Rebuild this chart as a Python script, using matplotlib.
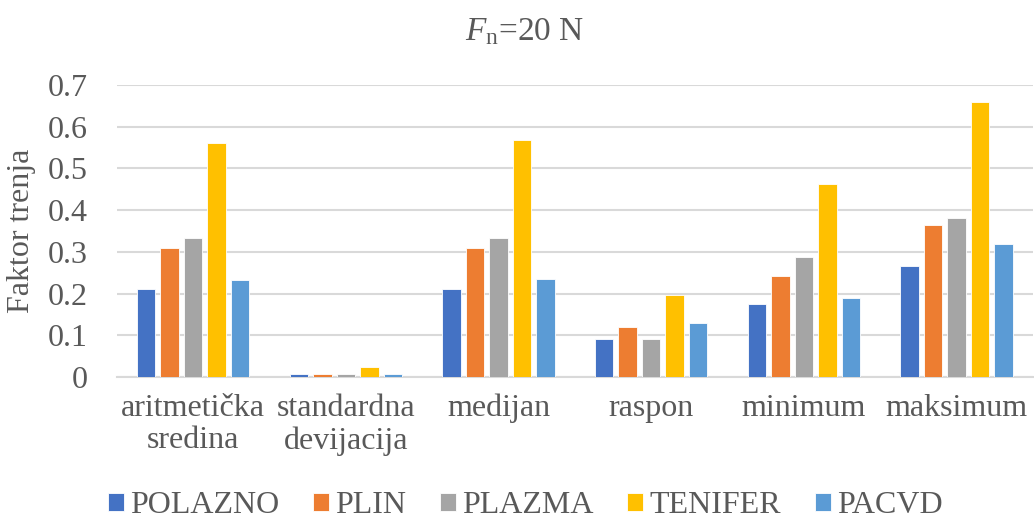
import numpy as np
import matplotlib
matplotlib.use("Agg")
import matplotlib.pyplot as plt

plt.rcParams["font.family"] = ["Liberation Serif", "DejaVu Serif"]
plt.rcParams["mathtext.fontset"] = "custom"
plt.rcParams["mathtext.rm"] = "Liberation Serif"
plt.rcParams["mathtext.it"] = "Liberation Serif:italic"

# data
categories = ["aritmetička\nsredina", "standardna\ndevijacija", "medijan",
              "raspon", "minimum", "maksimum"]
series_names = ["POLAZNO", "PLIN", "PLAZMA", "TENIFER", "PACVD"]
polazno = [0.212, 0.007, 0.212, 0.090, 0.174, 0.265]
plin = [0.309, 0.007, 0.310, 0.121, 0.242, 0.364]
plazma = [0.333, 0.008, 0.333, 0.090, 0.288, 0.380]
tenifer = [0.560, 0.025, 0.569, 0.197, 0.463, 0.660]
pacvd = [0.232, 0.007, 0.234, 0.129, 0.189, 0.318]
colors = ["#4472C4", "#ED7D31", "#A5A5A5", "#FFC000", "#5B9BD5"]

text_color = "#595959"
grid_color = "#D9D9D9"

fig = plt.figure(figsize=(10.34, 5.24), dpi=100)
ax = fig.add_axes([0.1129, 0.2805, 0.8861, 0.5573])

x = np.arange(len(categories))
pitch = 0.154
width = 0.121
all_series = [polazno, plin, plazma, tenifer, pacvd]
for i, (vals, name, c) in enumerate(zip(all_series, series_names, colors)):
    ax.bar(x + (i - 2) * pitch, vals, width, color=c, label=name,
           edgecolor="white", linewidth=0.6, zorder=3)

ax.set_xlim(-0.5, len(categories) - 0.5)
ax.set_ylim(0, 0.7)
ax.set_yticks(np.arange(0, 0.71, 0.1))
ax.set_yticklabels(["0", "0.1", "0.2", "0.3", "0.4", "0.5", "0.6", "0.7"])
ax.set_xticks(x)
ax.set_xticklabels(categories, linespacing=1.15)
ax.tick_params(axis="both", length=0, labelsize=23, colors=text_color)
ax.tick_params(axis="y", pad=21)
ax.tick_params(axis="x", pad=12)

ax.grid(axis="y", color=grid_color, linewidth=1.5, zorder=0)
for s in ["top", "right", "left"]:
    ax.spines[s].set_visible(False)
ax.spines["bottom"].set_color(grid_color)
ax.spines["bottom"].set_linewidth(1.5)

ax.set_ylabel("Faktor trenja", fontsize=23, color=text_color, labelpad=8)
fig.text(0.507, 0.94, r"$F$$_\mathrm{n}$=20 N", fontsize=24, color=text_color,
         ha="center", va="center")

handles, labels = ax.get_legend_handles_labels()
fig.legend(handles, labels, loc="center", bbox_to_anchor=(0.508, 0.035),
           ncol=5, frameon=False, fontsize=23, labelcolor=text_color,
           handlelength=0.5, handleheight=0.5, handletextpad=0.2,
           columnspacing=1.05, borderpad=0.1)

fig.savefig("out.png", dpi=100)
